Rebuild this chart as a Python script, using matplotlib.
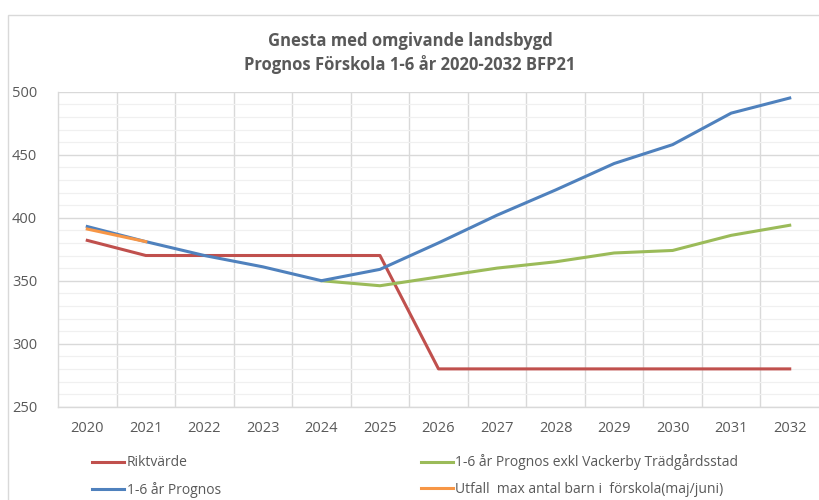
import matplotlib
matplotlib.use("Agg")
import matplotlib.pyplot as plt
from matplotlib.patches import Rectangle
from matplotlib.ticker import MultipleLocator

# ── Data ───────────────────────────────────────────────────────────────────────
years = ["2020", "2021", "2022", "2023", "2024", "2025", "2026",
         "2027", "2028", "2029", "2030", "2031", "2032"]

riktvarde = [382, 370, 370, 370, 370, 370, 280, 280, 280, 280, 280, 280, 280]
prognos   = [393, 381, 370, 361, 350, 359, 380, 402, 422, 443, 458, 483, 495]
# green starts in 2024
exkl_years = years[4:]
exkl       = [350, 346, 353, 360, 365, 372, 374, 386, 394]
# orange only 2020-2021
utfall_years = years[:2]
utfall       = [391, 381]

TITLE = "Gnesta med omgivande landsbygd\nPrognos Förskola 1-6 år 2020-2032 BFP21"

# ── Style ──────────────────────────────────────────────────────────────────────
RED    = "#C0504D"
GREEN  = "#9BBB59"
BLUE   = "#4F81BD"
ORANGE = "#F79646"
TXT    = "#595959"
GRID   = "#D9D9D9"
MINOR  = "#F0F0F0"

plt.rcParams["font.family"] = ["Open Sans", "DejaVu Sans"]

fig = plt.figure(figsize=(8.2, 5.0), dpi=100, facecolor="white")

# outer chart frame
fig.patches.append(Rectangle((8 / 820, -0.1), 1.2, (500 - 15) / 500 + 0.1,
                             transform=fig.transFigure, fill=False,
                             edgecolor="#D9D9D9", lw=1.0))

ax = fig.add_axes([58 / 820, (500 - 406.7) / 500, (819 - 58) / 820, 315 / 500])

x = list(range(len(years)))
idx = {y: i for i, y in enumerate(years)}

ax.plot(x, riktvarde, color=RED, lw=2.2, label="Riktvärde", zorder=3)
ax.plot(x, prognos, color=BLUE, lw=2.2, label="1-6 år Prognos", zorder=4)
ax.plot([idx[y] for y in utfall_years], utfall, color=ORANGE, lw=2.2,
        label="Utfall  max antal barn i  förskola(maj/juni)", zorder=5)
ax.plot([idx[y] for y in exkl_years], exkl, color=GREEN, lw=2.2,
        label="1-6 år Prognos exkl Vackerby Trädgårdsstad", zorder=3)

ax.set_xlim(-0.5, len(years) - 0.5)
ax.set_ylim(250, 500)
ax.set_xticks(x)
ax.set_xticklabels(years)
ax.set_yticks(range(250, 501, 50))
ax.yaxis.set_minor_locator(MultipleLocator(10))
ax.set_xticks([i + 0.5 for i in x[:-1]], minor=True)

ax.grid(axis="y", which="major", color=GRID, lw=1.0, zorder=0)
ax.grid(axis="y", which="minor", color=MINOR, lw=0.9, zorder=0)
ax.grid(axis="x", which="minor", color=GRID, lw=1.0, zorder=0)
ax.set_axisbelow(True)

ax.tick_params(which="both", length=0)
ax.tick_params(axis="x", pad=10, labelsize=10.5, labelcolor=TXT)
ax.tick_params(axis="y", pad=15, labelsize=10.5, labelcolor=TXT)

for side in ("top", "right"):
    ax.spines[side].set_visible(False)
for side in ("left", "bottom"):
    ax.spines[side].set_color(GRID)
    ax.spines[side].set_linewidth(1.0)

fig.text(0.5, 0.935, TITLE, ha="center", va="top", fontsize=12,
         fontweight="bold", color=TXT, linespacing=1.3)

handles, labels = ax.get_legend_handles_labels()
order = ["Riktvärde", "1-6 år Prognos",
         "1-6 år Prognos exkl Vackerby Trädgårdsstad",
         "Utfall  max antal barn i  förskola(maj/juni)"]
hmap = dict(zip(labels, handles))
leg = fig.legend([hmap[l] for l in order], order, ncol=2,
                 loc="upper left", bbox_to_anchor=(80 / 820, 1 - 442 / 500),
                 frameon=False, fontsize=10, labelcolor=TXT,
                 handlelength=2.3, handletextpad=0.15, columnspacing=14.4,
                 labelspacing=0.8)

fig.savefig("out.png", dpi=100, facecolor="white")
